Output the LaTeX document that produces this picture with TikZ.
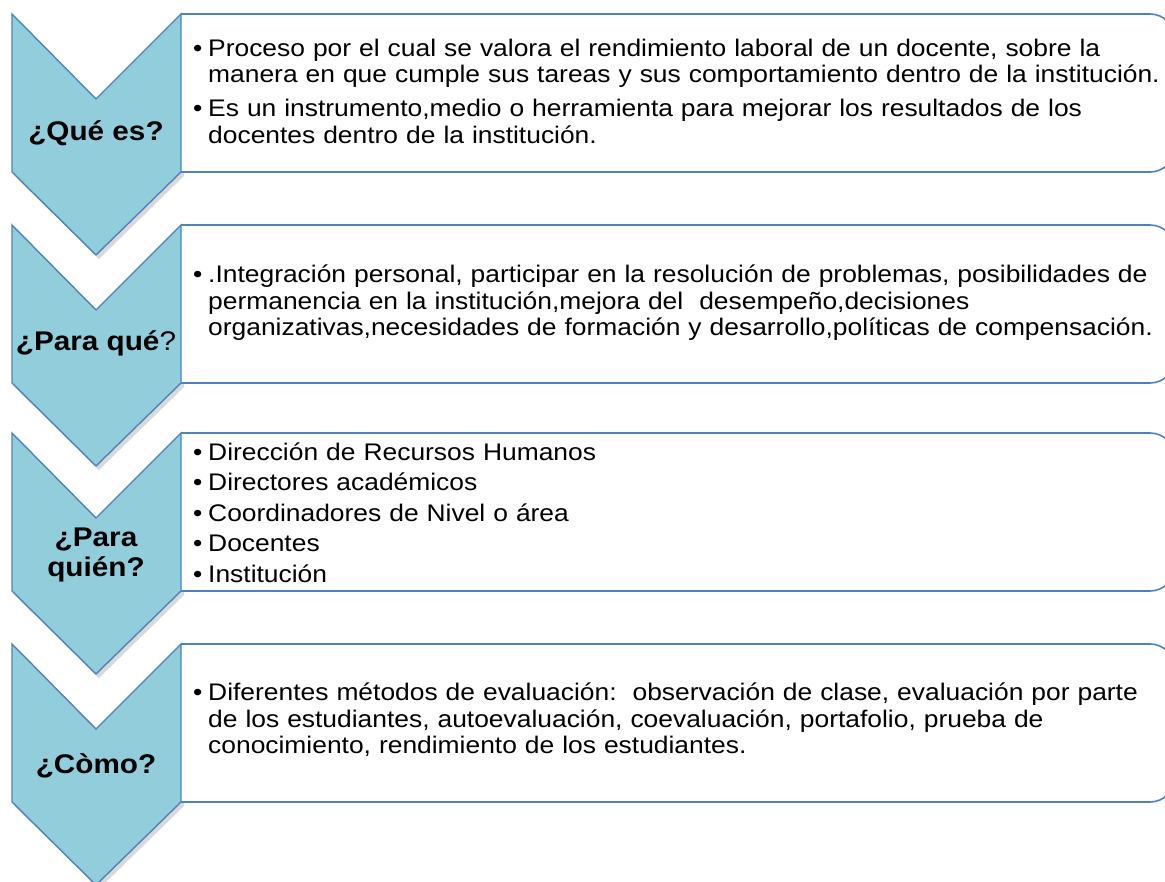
\documentclass[tikz,border=0pt]{standalone}
\usepackage{fontspec}
\setmainfont{Liberation Sans}[FakeStretch=1.1]
\definecolor{chevfill}{RGB}{146,205,220}
\definecolor{chevedge}{RGB}{79,129,189}
\newcommand{\itm}[1]{\par\noindent\makebox[15pt][l]{\textbullet}\begin{tabular}[t]{@{}l@{}}#1\end{tabular}}
\tikzset{
    chevron/.style={fill=chevfill,draw=chevedge,line width=1.4pt,line join=miter},
    chevshadow/.style={fill=black,opacity=0.15},
    infobox/.style={draw=chevedge,fill=white,line width=1.6pt,rounded corners=25pt},
    asklabel/.style={font=\fontsize{27}{30}\selectfont\bfseries,align=center,inner sep=0pt},
    infotext/.style={anchor=west,inner sep=0pt,text width=1100pt,align=left,
        font=\fontsize{24}{26.5}\selectfont}
}
\begin{document}
\begin{tikzpicture}[x=1pt,y=-1pt]
\useasboundingbox(0,0)rectangle(1165,882);
\clip(0,0)rectangle(1165,882);
\foreach \t in {14,225,433,644}
	{\fill[chevshadow](15,\t+4)--(99,\t+89)--(184,\t+4)--(184,\t+162)--(99,\t+245)--(15,\t+162)--cycle;
	 \draw[infobox](181,\t)--(1175,\t)--(1175,\t+158)--(181,\t+158);
	 \draw[chevron](12,\t)--(96,\t+85)--(181,\t)--(181,\t+158)--(96,\t+241)--(12,\t+158)--cycle;
	}
\node[asklabel](ask1) at(96,133){¿Qué es?};
\node[asklabel](ask2) at(96,343){¿Para qué\mdseries ?};
\node[asklabel](ask3) at(96,555){¿Para\\quién?};
\node[asklabel](ask4) at(96,766){¿Còmo?};

\node[infotext](txt1) at(193,87){\setlength{\parskip}{6.5pt}%
\itm{Proceso por el cual se valora el rendimiento laboral de un docente, sobre la\\ manera en que cumple sus tareas y sus comportamiento dentro de la institución.}
\itm{Es un instrumento,medio o herramienta para mejorar los resultados de los\\ docentes dentro de la institución.}};
\node[infotext](txt2) at(193,300){%
\itm{.Integración personal, participar en la resolución de problemas, posibilidades de\\ permanencia en la institución,mejora del\ \ desempeño,decisiones\\ organizativas,necesidades de formación y desarrollo,políticas de compensación.}};
\node[infotext](txt3) at(193,510){\setlength{\parskip}{4pt}%
\itm{Dirección de Recursos Humanos}
\itm{Directores académicos}
\itm{Coordinadores de Nivel o área}
\itm{Docentes}
\itm{Institución}};
\node[infotext](txt4) at(193,718){%
\itm{Diferentes métodos de evaluación:\ \ observación de clase, evaluación por parte\\ de los estudiantes, autoevaluación, coevaluación, portafolio, prueba de\\ conocimiento, rendimiento de los estudiantes.}};
\end{tikzpicture}
\end{document}
